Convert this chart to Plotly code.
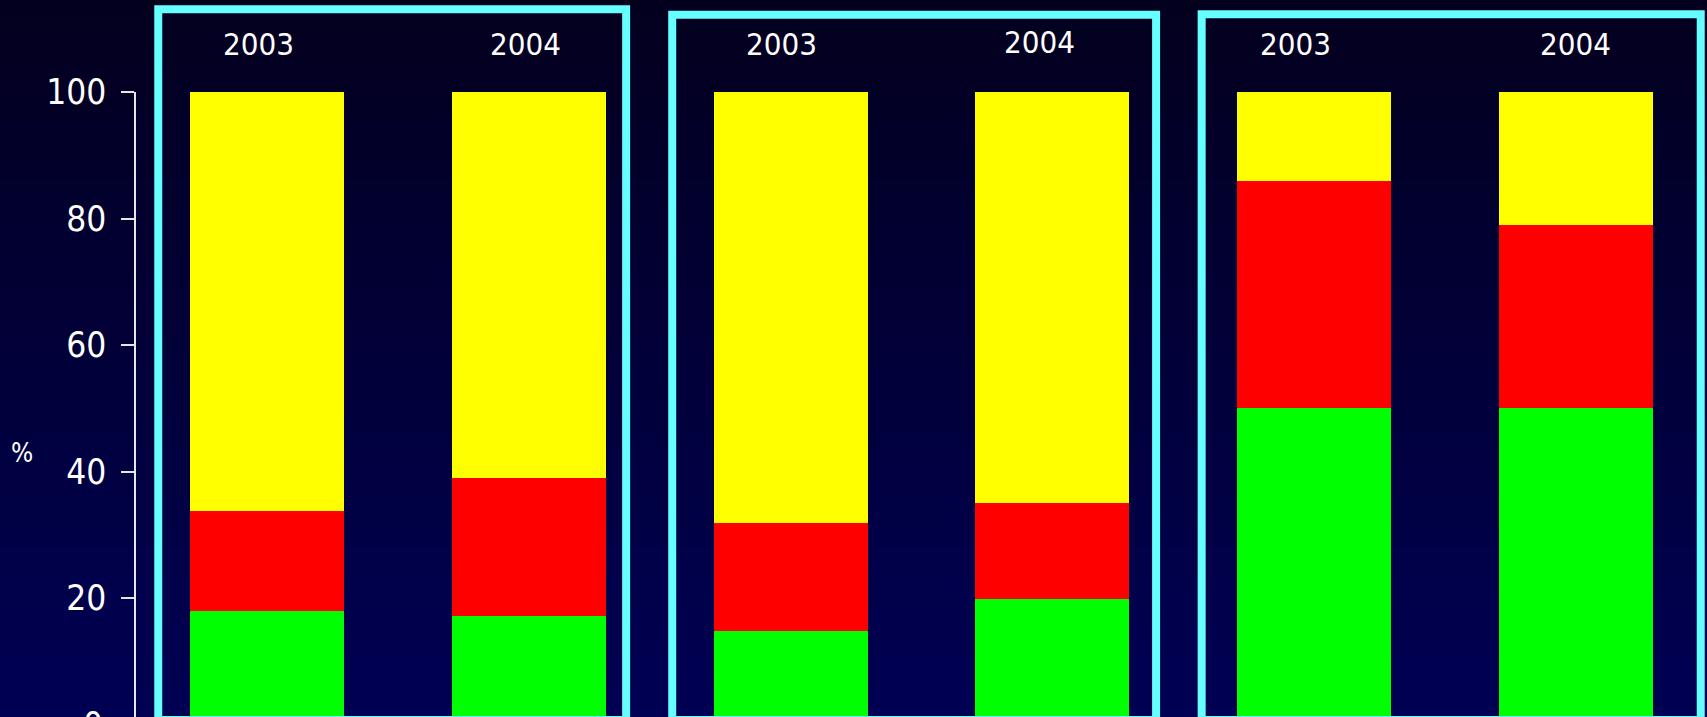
import plotly.graph_objects as go

# Three panels, each comparing 2003 with 2004 (percent shares, stacked to 100)
years = ["2003", "2004", "2003", "2004", "2003", "2004"]
green_pct = [18.0, 17.2, 14.8, 19.9, 50.0, 50.0]
red_pct = [15.8, 21.7, 17.1, 15.1, 36.0, 29.0]
yellow_pct = [66.2, 61.1, 68.1, 65.0, 14.0, 21.0]
y_ticks = [0, 20, 40, 60, 80, 100]

W, H = 1707, 717
ML, MT = 136, 92
PLOT_H = H - MT
PX_PER_UNIT = 6.325
Y_MIN = 100 - PLOT_H / PX_PER_UNIT

FONT = "DejaVu Sans Condensed, Noto Sans, sans-serif"
CYAN = "#66FFFF"

x = list(range(len(years)))
fig = go.Figure()
for vals, col in [(green_pct, "#00FF00"), (red_pct, "#FF0000"), (yellow_pct, "#FFFF00")]:
    fig.add_trace(go.Bar(x=x, y=vals, marker=dict(color=col, line=dict(width=0)),
                         width=0.588, showlegend=False, hoverinfo="skip"))


def px_to_paper_y(py):
    return (H - py) / PLOT_H


def px_to_paper_x(px):
    return (px - ML) / (W - ML)


shapes = []
# vertical background gradient, dark navy at the top to deeper blue at the bottom
n_bands = 80
top_rgb, bot_rgb = (3, 0, 30), (0, 0, 84)
band = H / n_bands
for k in range(n_bands):
    t = (k + 0.5) / n_bands
    c = tuple(round(a + (b - a) * t) for a, b in zip(top_rgb, bot_rgb))
    shapes.append(dict(type="rect", xref="paper", yref="paper",
                       x0=px_to_paper_x(0), x1=px_to_paper_x(W),
                       y0=px_to_paper_y((k + 1) * band + 0.5), y1=px_to_paper_y(k * band - 0.5),
                       fillcolor="rgb(%d,%d,%d)" % c, line=dict(width=0), layer="below"))

# cyan frames round each pair of bars (x in category units, top in pixels)
frames = [(-0.415, 1.372, 9.3), (1.548, 3.396, 14.7), (3.570, 5.476, 14.3)]
for x0, x1, top in frames:
    shapes.append(dict(type="rect", xref="x", yref="paper", x0=x0, x1=x1,
                       y0=px_to_paper_y(720), y1=px_to_paper_y(top),
                       line=dict(color=CYAN, width=8), fillcolor="rgba(0,0,0,0)",
                       layer="above"))

annotations = []
# year captions above the bars
year_dx = [-8, -3.5, -9, -13, -18.5, -1]
year_y = [44, 44, 44, 42, 44, 44]
for i, (lab, dx, yy) in enumerate(zip(years, year_dx, year_y)):
    annotations.append(dict(x=i, xref="x", y=px_to_paper_y(yy), yref="paper",
                            text=lab, showarrow=False, xshift=dx,
                            font=dict(family=FONT, size=31, color="white"),
                            xanchor="center", yanchor="middle"))
# axis unit
annotations.append(dict(x=px_to_paper_x(22), xref="paper", y=px_to_paper_y(453), yref="paper",
                        text="%", showarrow=False,
                        font=dict(family=FONT, size=26, color="white"),
                        xanchor="center", yanchor="middle"))
# zero label sits just below the visible area
annotations.append(dict(x=px_to_paper_x(105), xref="paper",
                        y=px_to_paper_y(724.8), yref="paper",
                        text=str(y_ticks[0]), showarrow=False,
                        font=dict(family=FONT, size=35, color="white"),
                        xanchor="right", yanchor="middle"))

fig.update_layout(
    width=W, height=H,
    margin=dict(l=ML, r=0, t=MT, b=0, pad=0),
    barmode="stack",
    paper_bgcolor="#020028",
    plot_bgcolor="rgba(0,0,0,0)",
    shapes=shapes,
    annotations=annotations,
    xaxis=dict(range=[-0.5, 5.5], showticklabels=False, showgrid=False,
               zeroline=False, showline=False, ticks=""),
    yaxis=dict(range=[Y_MIN, 100], tickvals=y_ticks, showgrid=False, zeroline=False,
               showline=True, linecolor="#e6e6e6", linewidth=1.5,
               ticks="outside", ticklen=13, tickwidth=1.5, tickcolor="#e6e6e6",
               ticklabelstandoff=8,
               tickfont=dict(family=FONT, size=35, color="white")),
)

fig.write_html("out.html")
